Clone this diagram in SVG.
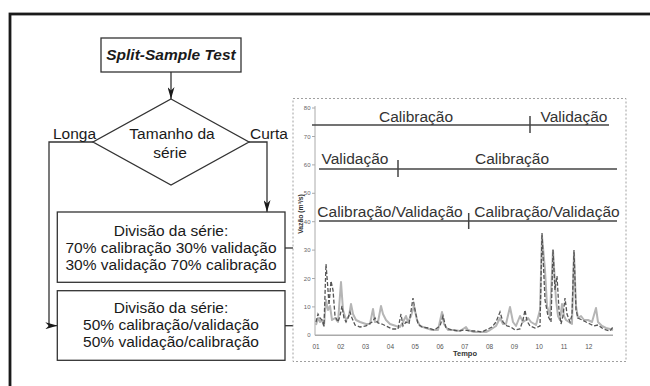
<svg xmlns="http://www.w3.org/2000/svg" width="650" height="386" viewBox="0 0 650 386">
<style>
.t{font-family:"Liberation Sans",Arial,sans-serif;font-size:15.5px;fill:#1a1a1a}
.c{text-anchor:middle}
.box{fill:#fff;stroke:#333;stroke-width:1.3}
.ln{fill:none;stroke:#333;stroke-width:1.3}
.ch{fill:none;stroke:#444;stroke-width:1.5}
.ax{font-family:"Liberation Sans",Arial,sans-serif;font-size:6px;fill:#666}
</style>
<defs>
<marker id="ah" markerUnits="userSpaceOnUse" markerWidth="12" markerHeight="7" refX="12" refY="3.5" orient="auto">
<path d="M0,0 L12,3.5 L0,7 L3.5,3.5 z" fill="#1a1a1a"/>
</marker>
</defs>
<rect width="650" height="386" fill="#fff"/>
<rect x="10" y="14" width="700" height="500" fill="none" stroke="#1a1a1a" stroke-width="2.8"/>

<g id="connectors">
<path class="ln" d="M171,72 V99" marker-end="url(#ah)"/>
<path class="ln" d="M93,142 H49 V325.7 H57.3" marker-end="url(#ah)"/>
<path class="ln" d="M249,142 H267 V212" marker-end="url(#ah)"/>
<path class="ln" d="M285,248 H293"/>
<path class="ln" d="M285,325.7 H293"/>
</g>

<g id="start">
<rect class="box" x="101" y="38" width="140" height="34"/>
<text class="t c" x="171" y="60" font-weight="bold" font-style="italic">Split-Sample Test</text>
</g>

<g id="decision">
<polygon class="box" points="171,99 249,142 171,185 93,142"/>
<text class="t c" x="172" y="139">Tamanho da</text>
<text class="t c" x="170" y="158">série</text>
</g>
<text class="t" x="53" y="139">Longa</text>
<text class="t" x="250" y="139">Curta</text>

<g id="box1">
<rect class="box" x="57.3" y="212" width="227.7" height="70.3"/>
<text class="t c" x="171" y="236">Divisão da série:</text>
<text class="t c" x="171" y="253">70% calibração 30% validação</text>
<text class="t c" x="171" y="270">30% validação 70% calibração</text>
</g>

<g id="box2">
<rect class="box" x="57.3" y="290.7" width="227.7" height="69.6"/>
<text class="t c" x="171" y="312.5">Divisão da série:</text>
<text class="t c" x="171" y="330">50% calibração/validação</text>
<text class="t c" x="171" y="347">50% validação/calibração</text>
</g>

<g id="chart">
<rect x="293" y="98.5" width="333" height="263" fill="none" stroke="#888" stroke-width="0.8" stroke-dasharray="2,2"/>
<g stroke="#aaa" stroke-width="1">
<line x1="315" y1="106" x2="315" y2="335.3"/>
<line x1="312" y1="108" x2="315" y2="108"/>
<line x1="312" y1="136.5" x2="315" y2="136.5"/>
<line x1="312" y1="164.9" x2="315" y2="164.9"/>
<line x1="312" y1="193.3" x2="315" y2="193.3"/>
<line x1="312" y1="221.7" x2="315" y2="221.7"/>
<line x1="312" y1="250.1" x2="315" y2="250.1"/>
<line x1="312" y1="278.5" x2="315" y2="278.5"/>
<line x1="312" y1="306.9" x2="315" y2="306.9"/>
</g>
<line x1="315" y1="335.3" x2="613" y2="335.3" stroke="#aaa" stroke-width="1.5"/>
<g class="ax" text-anchor="end">
<text x="310.5" y="110">80</text>
<text x="310.5" y="138.5">70</text>
<text x="310.5" y="166.9">60</text>
<text x="310.5" y="195.3">50</text>
<text x="310.5" y="223.7">40</text>
<text x="310.5" y="252.1">30</text>
<text x="310.5" y="280.5">20</text>
<text x="310.5" y="308.9">10</text>
<text x="310.5" y="337.3">0</text>
</g>
<g class="ax" text-anchor="middle" style="font-size:6.5px;fill:#555">
<text x="316" y="349">01</text>
<text x="340.8" y="349">02</text>
<text x="365.6" y="349">03</text>
<text x="390.4" y="349">04</text>
<text x="415.2" y="349">05</text>
<text x="440" y="349">06</text>
<text x="464.8" y="349">07</text>
<text x="489.6" y="349">08</text>
<text x="514.4" y="349">09</text>
<text x="539.2" y="349">10</text>
<text x="564" y="349">11</text>
<text x="588.8" y="349">12</text>
</g>
<text x="465" y="356" text-anchor="middle" font-family="Liberation Sans, Arial, sans-serif" font-size="7.5" font-weight="bold" fill="#333">Tempo</text>
<text transform="translate(303,214) rotate(-90)" text-anchor="middle" font-family="Liberation Sans, Arial, sans-serif" font-size="6.8" font-weight="bold" fill="#333">Vazão (m³/s)</text>

<polyline fill="none" stroke="#b5b5b5" stroke-width="2" stroke-linejoin="round" points="316,325 318,318 320,322 322,320 324,326 326,300 328,310 330,306 332,320 335,318 338,322 341,282 343,310 346,320 349,316 351,304 353,314 356,320 360,322 366,324 370,324 373,309 375,322 378,322 381,306 383,314 386,320 390,324 396,326 400,327 403,322 406,316 408,322 411,316 414,306 417,320 420,326 426,328 432,330 438,330 442,312 444,324 448,330 454,330 460,331 466,327 468,330 474,332 480,332 486,332 490,330 496,326 500,318 503,324 506,324 510,307 513,322 516,326 520,316 523,322 526,320 528,318 531,322 536,325 540,310 542,236 545,270 547,306 550,316 553,250 556,300 558,316 560,320 562,304 564,316 566,320 569,322 572,324 574,253 576,306 578,318 581,316 584,320 588,320 592,322 596,308 598,322 602,326 606,328 610,329 613,330"/>
<polyline fill="none" stroke="#555" stroke-width="1.3" stroke-dasharray="4,2" points="316,322 318,314 320,318 322,320 324,326 326,264 328,290 329,305 331,281 333,290 335,316 338,322 340,316 342,306 344,318 346,322 348,318 350,312 352,318 355,325 360,327 366,326 372,322 375,318 378,323 382,324 386,326 392,329 398,329 401,314 403,326 406,322 409,324 413,298 415,310 418,324 422,327 428,328 434,330 440,326 443,316 446,328 452,330 458,331 464,330 470,331 476,331 482,332 488,329 492,327 496,322 500,312 503,322 507,326 511,327 515,330 520,329 523,320 525,310 527,321 530,326 535,328 540,326 542,233 545,300 548,316 551,322 553,250 555,290 557,276 559,310 561,324 563,316 565,298 567,314 570,322 572,315 574,250 576,310 578,318 582,320 586,322 590,324 594,326 598,325 602,328 606,330 610,331 613,327"/>

<line class="ch" x1="312" y1="125" x2="609" y2="125"/>
<line class="ch" x1="530" y1="116" x2="530" y2="133"/>
<text class="t c" x="416" y="121.5" style="fill:#333">Calibração</text>
<text class="t c" x="574" y="121.5" style="fill:#333">Validação</text>

<line class="ch" x1="319" y1="169" x2="617" y2="169"/>
<line class="ch" x1="398" y1="160" x2="398" y2="177"/>
<text class="t c" x="355" y="163.5" style="fill:#333">Validação</text>
<text class="t c" x="512" y="163.5" style="fill:#333">Calibração</text>

<line class="ch" x1="319" y1="221" x2="617" y2="221"/>
<line class="ch" x1="468.7" y1="213" x2="468.7" y2="229"/>
<text class="t c" x="390" y="216.5" style="fill:#333">Calibração/Validação</text>
<text class="t c" x="547" y="216.5" style="fill:#333">Calibração/Validação</text>
</g>
</svg>
